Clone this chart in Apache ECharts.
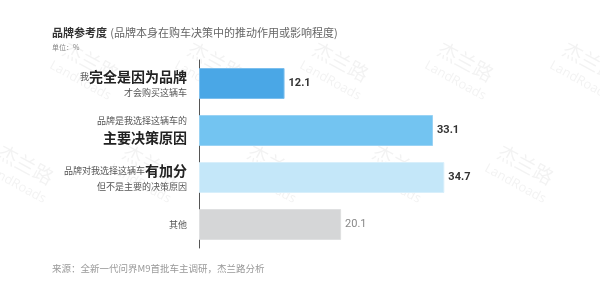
<!DOCTYPE html>
<html>
<head>
<meta charset="utf-8">
<script src="https://cdn.jsdelivr.net/npm/echarts@6/dist/echarts.min.js"></script>
<style>
    html, body { margin: 0; padding: 0; background: #fff; }
    #chart { width: 600px; height: 299px; }
</style>
</head>
<body>
<div id="chart"></div>
<script>
    // 数据
    const categories = ['完全是因为品牌', '主要决策原因', '有加分', '其他'];
    const values = [12.1, 33.1, 34.7, 20.1];
    const barColors = ['#4aa7e6', '#73c4f1', '#c4e7f9', '#d5d6d7'];
    const borderColors = ['#7cbfee', '#9ad3f4', '#d8effb', '#dfe0e1'];

    /* 分类标签（富文本） */
    const labelText = {
        '完全是因为品牌': '{s|我}{b|完全是因为品牌}\n{s|才会购买这辆车}',
        '主要决策原因': '{s|品牌是我选择这辆车的}\n{b|主要决策原因}',
        '有加分': '{s|品牌对我选择这辆车}{b|有加分}\n{s|但不是主要的决策原因}',
        '其他': '{s|其他}'
    };

    /* 水印 */
    const marks = [[85, 72], [210, 72], [335, 72], [460, 72], [585, 72],
                   [20, 175], [145, 175], [270, 175], [395, 175], [520, 175]];
    let graphic = [];
    marks.forEach(function (p) {
        graphic.push({
            type: 'group', x: p[0], y: p[1], rotation: -0.5, z: -10, silent: true,
            children: [
                { type: 'text', x: 0, y: -12, style: { text: '杰兰路', fill: 'rgba(0,0,0,0.05)', font: '20px "Noto Sans CJK SC"', align: 'center', verticalAlign: 'middle' } },
                { type: 'text', x: 0, y: 10, style: { text: 'LandRoads', fill: 'rgba(0,0,0,0.05)', font: '13px "Noto Sans"', align: 'center', verticalAlign: 'middle' } }
            ]
        });
    });

    graphic.push({
        type: 'text', left: 52, top: 27,
        style: {
            rich: {
                t: { fontSize: 11, fontWeight: 'bold', fill: '#333', fontFamily: 'Noto Sans CJK SC' },
                n: { fontSize: 11, fill: '#666', fontFamily: 'Noto Sans CJK SC' }
            },
            text: '{t|品牌参考度} {n|(品牌本身在购车决策中的推动作用或影响程度)}'
        }
    });
    graphic.push({
        type: 'text', left: 52, top: 44,
        style: { text: '单位：%', fontSize: 7, fill: '#888', fontFamily: 'Noto Sans CJK SC' }
    });
    graphic.push({
        type: 'text', left: 52, top: 264,
        style: { text: '来源：全新一代问界M9首批车主调研，杰兰路分析', fontSize: 9.5, fill: '#999', fontFamily: 'Noto Sans CJK SC' }
    });

    const chart = echarts.init(document.getElementById('chart'));
    chart.setOption({
        animation: false,
        graphic: graphic,
        grid: { left: 199, top: 60, width: 353.5, height: 188 },
        xAxis: {
            type: 'value',
            min: 0,
            max: 50,
            show: false
        },
        yAxis: {
            type: 'category',
            inverse: true,
            data: categories,
            axisLine: { lineStyle: { color: '#555', width: 1 } },
            axisTick: { show: false },
            axisLabel: {
                margin: 12,
                align: 'right',
                fontFamily: 'Noto Sans CJK SC',
                formatter: function (v) { return labelText[v]; },
                rich: {
                    s: { fontSize: 9, color: '#555', lineHeight: 14, fontFamily: 'Noto Sans CJK SC' },
                    b: { fontSize: 14, fontWeight: 'bold', color: '#222', lineHeight: 19, fontFamily: 'Noto Sans CJK SC' }
                }
            }
        },
        series: [{
            type: 'bar',
            barWidth: 31,
            data: values.map(function (v, i) {
                return {
                    value: v,
                    itemStyle: { color: barColors[i], borderColor: borderColors[i], borderWidth: 1 },
                    label: i === 3 ? { fontWeight: 'normal', color: '#888' } : {}
                };
            }),
            label: {
                show: true,
                position: 'right',
                distance: 4,
                fontSize: 11,
                fontWeight: 'bold',
                color: '#333',
                fontFamily: 'Roboto'
            }
        }]
    });
</script>
</body>
</html>
